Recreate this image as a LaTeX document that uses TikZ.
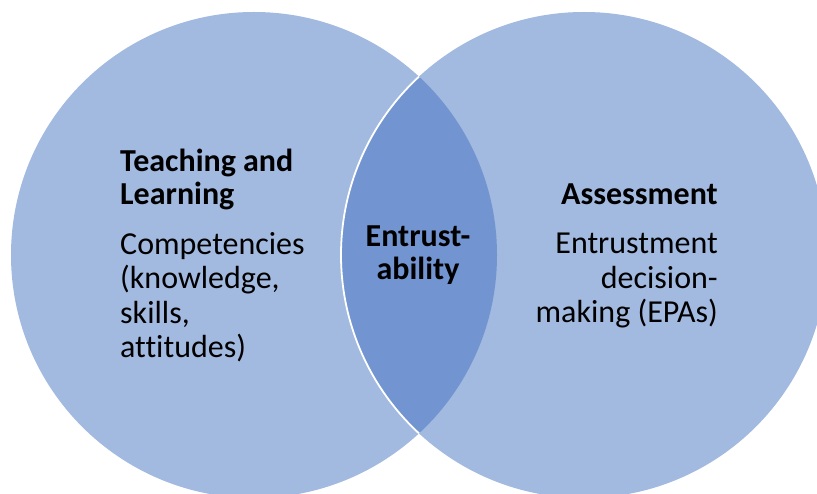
\documentclass[tikz,border=0pt]{standalone}
\usepackage{fontspec}
\setmainfont{Carlito}[Ligatures=NoCommon]
\definecolor{setblue}{HTML}{A2B9E0}
\definecolor{lensblue}{HTML}{7295D2}

\begin{document}
\begin{tikzpicture}[x=1pt,y=-1pt,
  set/.style={circle,fill=setblue,minimum size=486pt,inner sep=0pt},
  title/.style={font=\fontsize{32}{33}\selectfont\bfseries,inner sep=0pt},
  body/.style={font=\fontsize{32}{34.5}\selectfont,inner sep=0pt}]
  \useasboundingbox (0,0) rectangle (817,494);
  \node[set] (teach)  at (254,255) {};
  \node[set] (assess) at (584,255) {};
  % overlap of the two sets
  \begin{scope}
    \clip (teach.center) circle (243);
    \fill[lensblue] (assess.center) circle (243);
    \draw[white,line width=1.8pt] (assess.center) circle (243);
  \end{scope}
  % texts, placed by the baseline of their last line
  \node[title,align=left,anchor=base west]  (teachtitle)  at (120,205) {Teaching and\\Learning};
  \node[body,align=left,anchor=base west]   (teachbody)   at (120,358) {Competencies\\(knowledge,\\skills,\\attitudes)};
  \node[title,align=center,anchor=base]     (entrust)     at (418,280) {Entrust-\\ability};
  \node[title,anchor=base east]             (assesstitle) at (718,205) {Assessment};
  \node[body,align=right,anchor=base east]  (assessbody)  at (718,323) {Entrustment\\decision-\\making (EPAs)};
\end{tikzpicture}
\end{document}
